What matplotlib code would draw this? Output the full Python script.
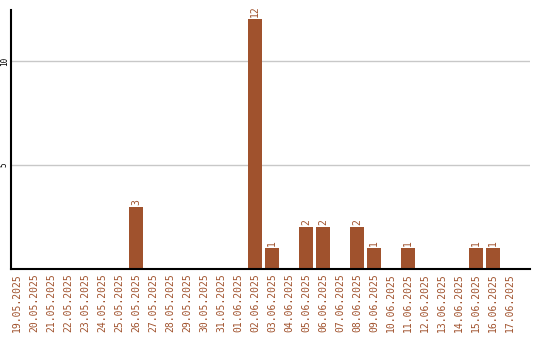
import numpy as np
import matplotlib.pyplot as plt

dates = ['19.05.2025', '20.05.2025', '21.05.2025', '22.05.2025', '23.05.2025',
         '24.05.2025', '25.05.2025', '26.05.2025', '27.05.2025', '28.05.2025',
         '29.05.2025', '30.05.2025', '31.05.2025', '01.06.2025', '02.06.2025',
         '03.06.2025', '04.06.2025', '05.06.2025', '06.06.2025', '07.06.2025',
         '08.06.2025', '09.06.2025', '10.06.2025', '11.06.2025', '12.06.2025',
         '13.06.2025', '14.06.2025', '15.06.2025', '16.06.2025', '17.06.2025']
counts = [0, 0, 0, 0, 0, 0, 0, 3, 0, 0,
          0, 0, 0, 0, 12, 1, 0, 2, 2, 0,
          2, 1, 0, 1, 0, 0, 0, 1, 1, 0]
y_ticks = [5, 10]

brown = '#a0522d'
mono = 'DejaVu Sans Mono'

fig = plt.figure(figsize=(5.4, 3.4), dpi=100)
ax = fig.add_axes([11 / 540, 1 - 269 / 340, 519 / 540, 259 / 340])

x = np.arange(len(dates))
ax.bar(x, counts, width=0.82, color=brown, zorder=2)
for xi, c in zip(x, counts):
    if c > 0:
        ax.text(xi, c + 0.1, str(c), rotation=90, ha='center', va='bottom',
                color=brown, fontsize=7, family=mono)

ax.set_xlim(-0.353, 30.18)
ax.set_ylim(0, 12.45)
ax.set_xticks(x)
ax.set_xticklabels(dates, rotation=90, color=brown, fontsize=7, family=mono)
ax.set_yticks(y_ticks)
ax.set_yticklabels([str(t) for t in y_ticks], rotation=90, va='center',
                   fontsize=5.5, family=mono)
ax.tick_params(axis='x', length=0, pad=3)
ax.tick_params(axis='y', length=0, pad=1.5)
ax.yaxis.grid(True, color='#c8c8c8', linewidth=1, zorder=0)
ax.set_axisbelow(True)
for s in ['top', 'right']:
    ax.spines[s].set_visible(False)
ax.spines['left'].set_linewidth(1.5)
ax.spines['bottom'].set_linewidth(1.5)

fig.savefig('out.png', dpi=100)
